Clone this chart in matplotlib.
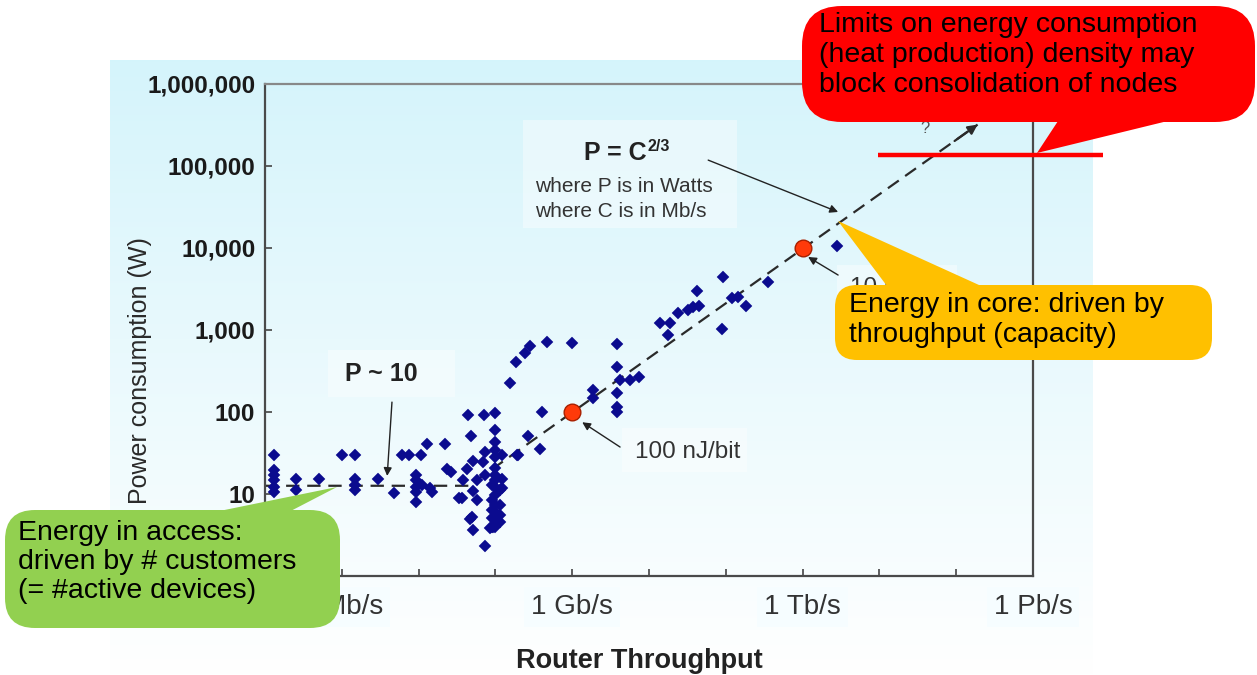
import matplotlib
matplotlib.use("Agg")
import matplotlib.pyplot as plt
import numpy as np
from matplotlib.patches import FancyBboxPatch, Polygon, Rectangle
from matplotlib.ticker import NullLocator

plt.rcParams["font.family"] = ["Liberation Sans", "DejaVu Sans"]

# router samples: throughput (Mb/s) and power (W)
rate_mbps = [
    0.13, 0.13, 0.13, 0.13, 0.13, 0.13,
    0.25, 0.25, 0.5, 1.0,
    1.5, 1.5, 1.5, 1.5, 3.0, 4.8,
    6.0, 7.5, 10.7, 12.9, 22,
    9.2, 9.2, 9.2, 9.2, 9.2,
    11, 14, 14.9, 23.4, 26.4, 33.5,
    44, 71,
    99, 99, 99, 99, 99, 99, 99, 99, 99, 99, 99, 99, 99, 99,
    91, 91, 91, 91, 91,
    115, 115, 115, 115,
    48, 73, 73, 51, 51, 51, 69,
    42.6, 190, 38, 57, 57, 123, 123, 36.7,
    50, 47, 85, 93, 73,
    155, 186, 243, 280, 470, 1000,
    3830, 3830, 3830, 3830, 3830,
    4170, 5600, 7400, 1860, 1860,
    410, 265, 380, 195, 123,
    13800, 18600, 17800, 24000, 32500, 37000, 44500, 42000,
    91000, 89000, 120000, 144000, 182000, 350000, 2800000,
]
power_w = [
    30, 19.6, 17, 14.8, 12.2, 10.6,
    15.2, 11.2, 15.2, 30,
    30, 15.2, 12.9, 11.2, 15.2, 10.3,
    30, 30, 30, 40.7, 40.7,
    17, 14.8, 12.2, 10.6, 8.0,
    12.9, 11.8, 10.6, 20.2, 18.5, 8.9,
    92, 92,
    97, 60, 43, 34, 28, 21, 17, 14.8, 12.2, 9.7, 7.3, 6.0, 4.8, 4.0,
    12.9, 8.5, 6.4, 5.1, 4.0,
    11.2, 7.3, 5.5, 4.6,
    51, 32.5, 17, 25, 10.9, 3.6, 24.6,
    20.2, 30, 14.8, 14.8, 8.5, 15.2, 11.8, 8.9,
    5.2, 4.96, 3.85, 4.0, 2.3,
    226, 407, 525, 638, 714, 693,
    674, 352, 170, 115, 100,
    245, 245, 267, 185, 148,
    100, 51, 35, 30, 30,
    1217, 1217, 868, 1610, 1755, 1910, 1960, 2990,
    4430, 1030, 2460, 2530, 1960, 3850, 10500,
]

# reference points: 100 nJ/bit and 10 nJ/bit
ref_rate_mbps = [1e3, 1e6]
ref_power_w = [100, 1e4]

# trend: flat at ~10 W, then P = C^(2/3)
model_rate_mbps = [0.1, 45, 1.9e8]
model_power_w = [12.6, 12.6, 3.2e5]

x_tick_exp = list(range(5, 16))
x_tick_names = {6: "1 Mb/s", 9: "1 Gb/s", 12: "1 Tb/s", 15: "1 Pb/s"}
y_tick_vals = [10, 100, 1000, 10000, 100000, 1000000]

W, H = 1257, 675
fig = plt.figure(figsize=(W / 100, H / 100), dpi=100)

# slide background panel
bg = fig.add_axes([0, 0, 1, 1], zorder=0)
top = np.array([0.835, 0.957, 0.985])
grad = np.linspace(0, 1, 256)[:, None, None]
img = top + (1.0 - top) * grad
bg.imshow(img, extent=(110, 1093, 675, 60), aspect="auto", interpolation="bilinear")
for x0, y0, w, h in [(523, 120, 214, 108), (328, 350, 127, 47), (622, 428, 125, 44), (837, 265, 120, 40)]:
    bg.add_patch(Rectangle((x0, y0), w, h, fc="white", alpha=0.4, ec="none"))
bg.set_xlim(0, W)
bg.set_ylim(H, 0)
bg.axis("off")

ax = fig.add_axes([265 / W, (H - 576) / H, 768 / W, 492 / H], zorder=1)
ax.patch.set_visible(False)
ax.set_xscale("log")
ax.set_yscale("log")

mx = np.array(model_rate_mbps) * 1e6
ax.plot(mx, model_power_w, ls=(0, (6, 3.5)), color="#2a2a2a", lw=1.6)
ax.annotate("", xy=(mx[-1], model_power_w[-1]),
            xytext=(mx[-1] / 10 ** 0.3, model_power_w[-1] / 10 ** 0.2),
            arrowprops=dict(arrowstyle="-|>", color="#2a2a2a", lw=1.6,
                            mutation_scale=14, shrinkA=0, shrinkB=0))
ax.text(3.9e13, 2.9e5, "?", fontsize=12, color="#555555", ha="center", va="center")

ax.plot(np.array(rate_mbps) * 1e6, power_w, ls="none", marker="D", ms=5.8,
        mfc="#0b0b8f", mec="#0b0b8f", mew=0.3)
ax.plot(np.array(ref_rate_mbps) * 1e6, ref_power_w, ls="none", marker="o", ms=12,
        mfc="#ff3a0a", mec="#a82000", mew=1)

arrow_kw = dict(arrowstyle="-|>", color="#222222", lw=1.0, mutation_scale=12, shrinkA=0, shrinkB=0)
ax.annotate("", xy=(3.9e6, 16.6), xytext=(4.5e6, 132), arrowprops=arrow_kw)
ax.annotate("", xy=(2.9e12, 2.75e4), xytext=(5.9e10, 1.18e5), arrowprops=arrow_kw)
ax.annotate("", xy=(1.35e9, 75), xytext=(4.2e9, 37.4), arrowprops=arrow_kw)
ax.annotate("", xy=(1.18e12, 7770), xytext=(2.9e12, 4680), arrowprops=arrow_kw)

ax.text(3.3e6, 290, "P ~ 10", ha="center", va="center", fontsize=18, fontweight="bold", color="#222222")
ax.text(9.4e9, 1.44e5, "P = C", ha="right", va="center", fontsize=18, fontweight="bold", color="#222222")
ax.text(9.5e9, 1.75e5, "2/3", ha="left", va="center", fontsize=11.5, fontweight="bold", color="#222222")
ax.text(3.3e8, 5.7e4, "where P is in Watts", ha="left", va="center", fontsize=15, color="#333333")
ax.text(3.3e8, 2.8e4, "where C is in Mb/s", ha="left", va="center", fontsize=15, color="#333333")
ax.text(3.2e10, 32.5, "100 nJ/bit", ha="center", va="center", fontsize=17.5, color="#333333")
ax.text(4.2e12, 3250, "10 nJ/bit", ha="left", va="center", fontsize=17.5, color="#333333")

ax.set_xlim(1e5, 1e15)
ax.set_ylim(1, 1e6)
ax.set_xticks([10.0 ** e for e in x_tick_exp])
ax.set_xticklabels([x_tick_names.get(e, "") for e in x_tick_exp])
ax.set_yticks(y_tick_vals)
ax.set_yticklabels([f"{v:,}" for v in y_tick_vals])
ax.xaxis.set_minor_locator(NullLocator())
ax.yaxis.set_minor_locator(NullLocator())
ax.tick_params(direction="in", length=5, width=1.2, color="#444444")
ax.tick_params(axis="x", labelsize=20, pad=13, labelcolor="#333333")
ax.tick_params(axis="y", labelsize=17.5, pad=7, labelcolor="#1a1a1a")
for lbl in ax.get_yticklabels():
    lbl.set_fontweight("bold")
for lbl in ax.get_xticklabels():
    if lbl.get_text():
        lbl.set_bbox(dict(boxstyle="square,pad=0.25", fc="#f6fdff", ec="none"))
for name, s in ax.spines.items():
    s.set_color("#888888" if name == "top" else "#4a4a4a")
    s.set_linewidth(1.6)

ax.set_ylabel("Power consumption (W)", fontsize=18, color="#2a2a2a")
ax.yaxis.set_label_coords(-0.147, 0.417)
ax.set_xlabel("Router Throughput", fontsize=19.5, fontweight="bold", color="#222222")
ax.xaxis.set_label_coords(0.488, -0.146)

# callouts on top of the slide
fg = fig.add_axes([0, 0, 1, 1], zorder=3)
fg.set_xlim(0, W)
fg.set_ylim(H, 0)
fg.axis("off")


def callout(box, wedge, color, r):
    x0, y0, x1, y1 = box
    fg.add_patch(FancyBboxPatch((x0, y0), x1 - x0, y1 - y0,
                                boxstyle=f"round,pad=0,rounding_size={r}", fc=color, ec="none"))
    fg.add_patch(Polygon(wedge, closed=True, fc=color, ec="none"))


fg.plot([878, 1103], [155, 155], color="#ff0000", lw=3.2, solid_capstyle="butt")
callout((802, 6, 1255, 122), [(1060, 118), (1037, 153), (1180, 118)], "#ff0000", 40)
callout((835, 285, 1212, 360), [(838, 221), (890, 290), (990, 290)], "#ffc000", 22)
callout((5, 510, 340, 628), [(337, 487), (200, 515), (283, 515)], "#92d050", 30)

fg.text(819, 12, "Limits on energy consumption\n(heat production) density may\nblock consolidation of nodes",
        ha="left", va="top", fontsize=20.5, linespacing=1.2, color="black")
fg.text(849, 292, "Energy in core: driven by\nthroughput (capacity)",
        ha="left", va="top", fontsize=20.5, linespacing=1.2, color="black")
fg.text(18, 520, "Energy in access:\ndriven by # customers\n(= #active devices)",
        ha="left", va="top", fontsize=20.5, linespacing=1.15, color="black")

fig.savefig("out.png", dpi=100)
